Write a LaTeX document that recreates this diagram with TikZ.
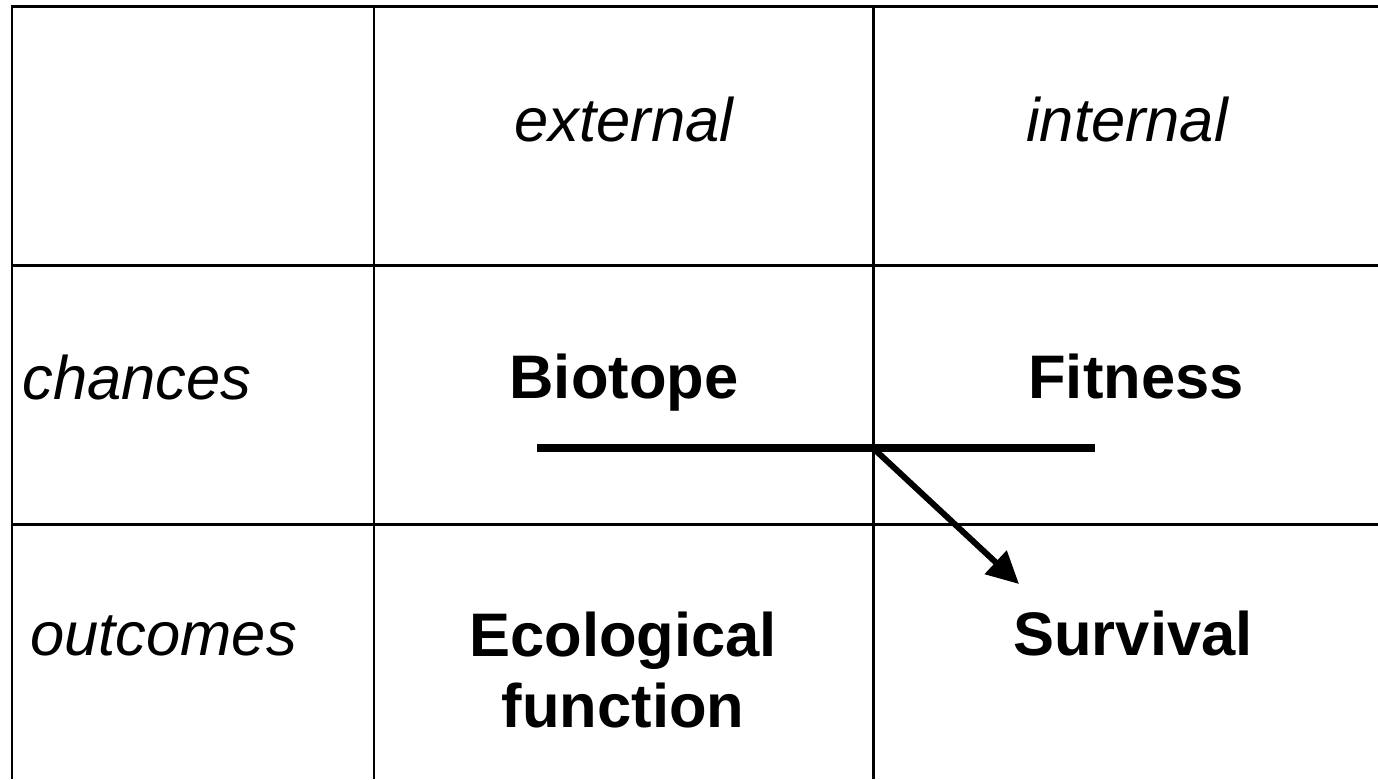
\documentclass[tikz,border=0pt]{standalone}
\usepackage{fontspec}
\setmainfont{Liberation Sans}
\usetikzlibrary{arrows.meta,calc,positioning}

\begin{document}
\begin{tikzpicture}[x=0.02cm,y=-0.02cm,>={Triangle[length=0.64cm,width=0.62cm]}]
  \tikzstyle{grid line}=[line width=1.7pt]
  \tikzstyle{head text}=[font={\fontsize{35}{40}\selectfont\itshape},inner sep=0]
  \tikzstyle{row text}=[font={\fontsize{35}{40}\selectfont\itshape},inner sep=0,anchor=base west]
  \tikzstyle{cell text}=[font={\fontsize{35}{40}\selectfont\bfseries},inner sep=0,align=center]
  \useasboundingbox (0,0) rectangle (1378,779);
  % table
  \coordinate (tl) at (12,6);
  \coordinate (c1) at (374,6);
  \coordinate (c2) at (873,6);
  \draw[grid line] (12,779) -- (tl) -- (1378,6);
  \draw[grid line] (c1) -- (374,779);
  \draw[grid line] (c2) -- (873,779);
  \draw[grid line] (12,265) -- (1378,265);
  \draw[grid line] (12,524) -- (1378,524);
  % headings
  \node[head text] (ext) at (624,120) {external};
  \node[head text] (int) at (1127,120) {internal};
  \node[row text] (chan) at (22,399) {chances};
  \node[row text] (outc) at (30,655) {outcomes};
  % cells
  \node[cell text,anchor=base] (bio) at (624,398) {Biotope};
  \node[cell text,anchor=base] (fit) at (1136,398) {Fitness};
  \node[cell text] (eco) at (623,670) {Ecological\\function};
  \node[cell text,anchor=base] (surv) at (1133,655) {Survival};
  % link
  \coordinate (l) at (537,448);
  \coordinate (r) at (1095,448);
  \coordinate (j) at (873,448);
  \coordinate (tip) at (1019,584);
  \draw[line width=4.6pt] (l) -- (r);
  \draw[line width=3.4pt,->] (j) -- (tip);
\end{tikzpicture}
\end{document}
